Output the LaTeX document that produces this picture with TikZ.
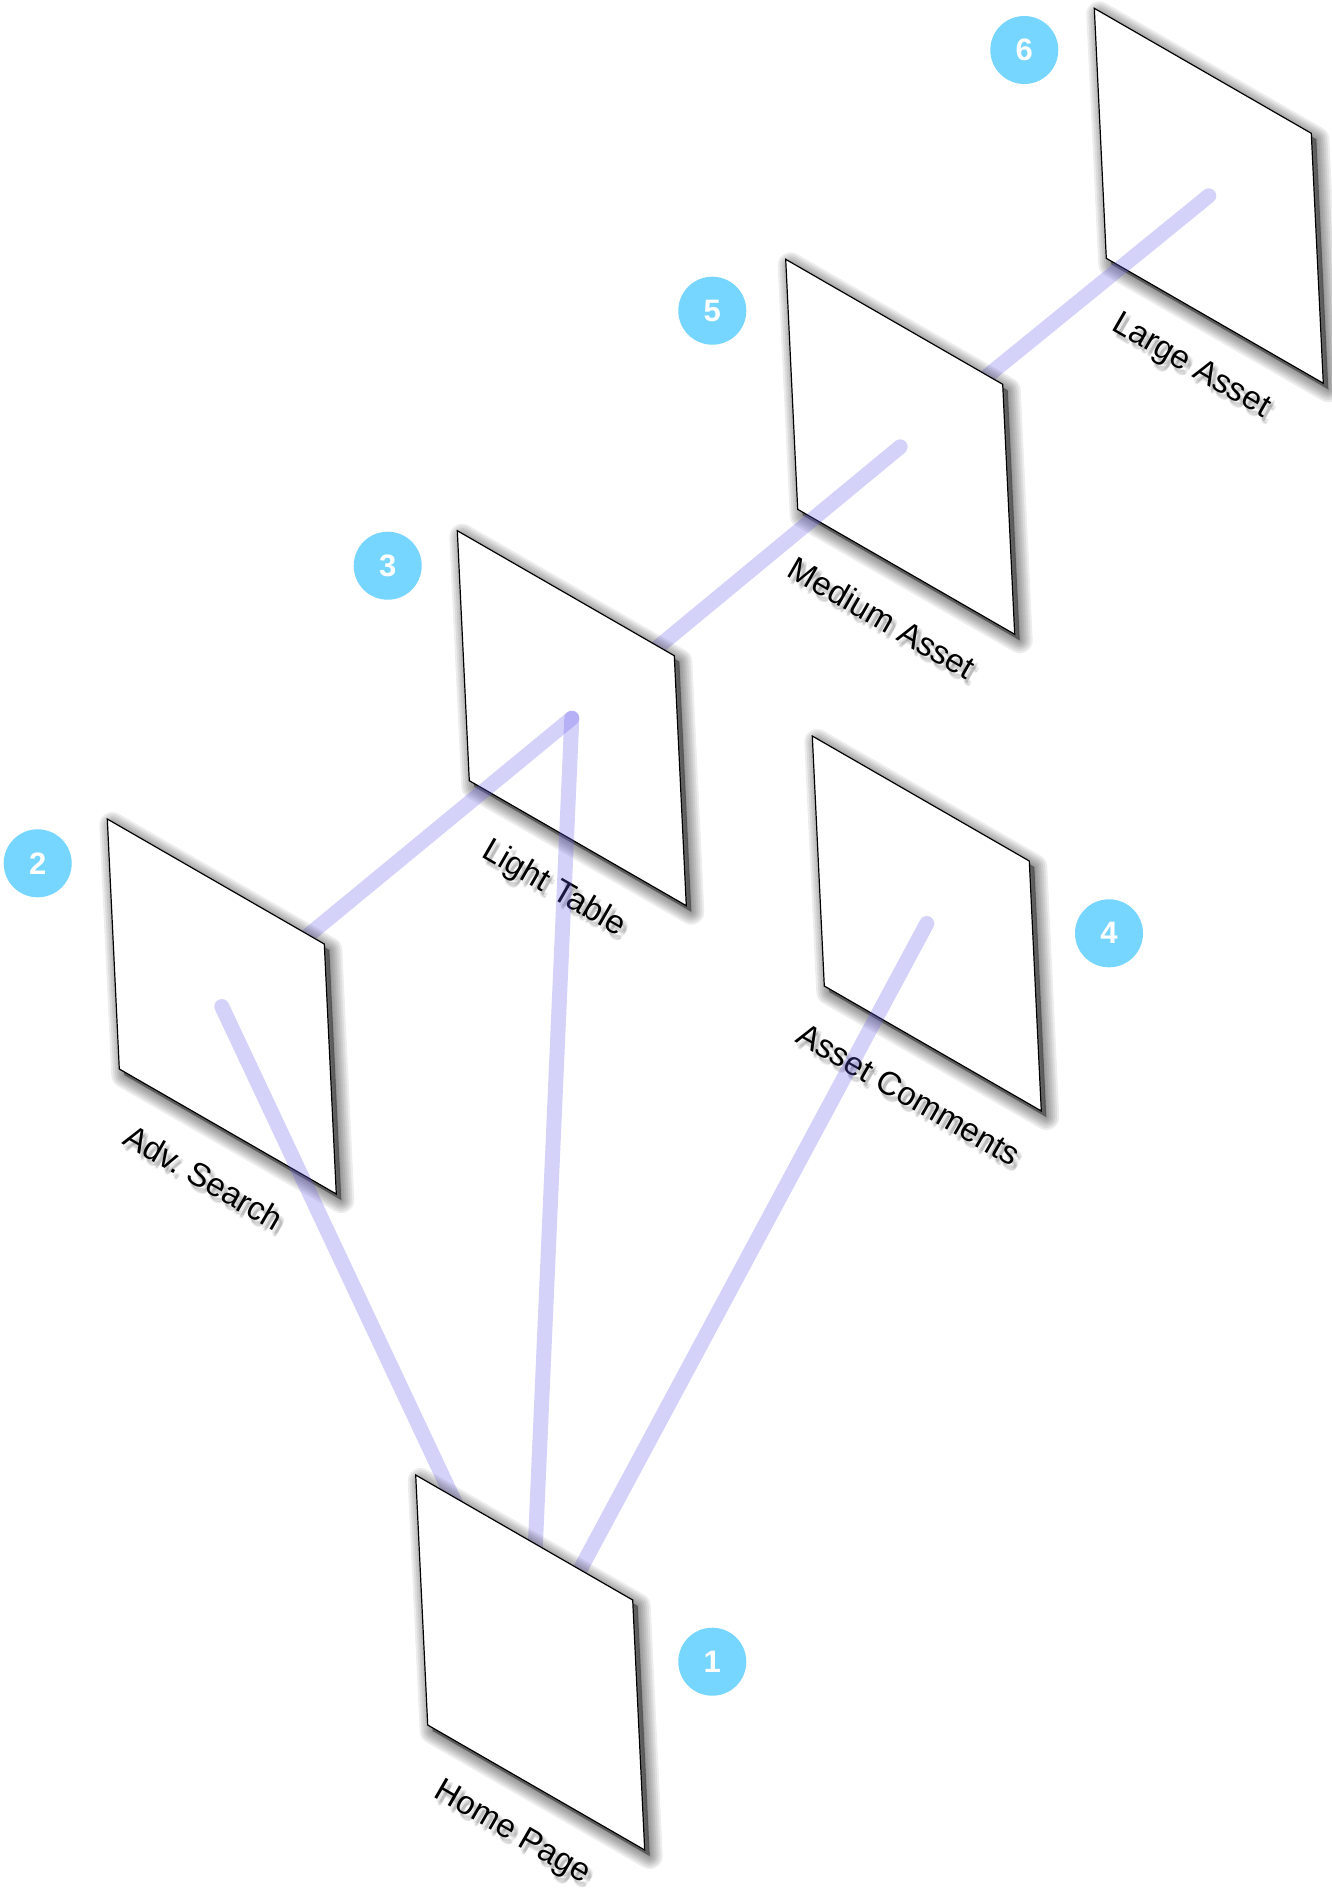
\documentclass[tikz,border=0pt]{standalone}
\usepackage{fontspec}
\setmainfont{Liberation Sans}
\definecolor{badge}{RGB}{118,214,255}
\definecolor{linkc}{RGB}{100,90,240}
\tikzset{
  pagebox/.style={draw=black, line width=0.6pt, fill=white, line join=miter},
  pageshadow/.style={fill=black, fill opacity=0.07, draw=black, draw opacity=0.07,
    line width=#1, line join=round},
  link/.style={draw=linkc, draw opacity=0.27, line width=7.5pt, line cap=round},
  badgec/.style={circle, fill=badge, minimum size=34pt, inner sep=0pt, text=white,
    font=\fontsize{15.5}{18}\selectfont\bfseries},
  lbl/.style={rotate=-30, font=\fontsize{16.5}{19}\selectfont, inner sep=0pt},
  lblsh/.style={lbl, text=black, text opacity=0.09},
}
\newcommand{\mypage}[4]{%
  \foreach \w in {13pt,11pt,9pt,7pt,5pt,3pt,1pt}{
    \path[pageshadow=\w] ({#2+5},{#3+6}) -- ++(217,125) -- ++(12,250) -- ++(-217,-125) -- cycle;
  }
  \path[pagebox] (#2,#3) -- ++(217,125) -- ++(12,250) -- ++(-217,-125) -- cycle;
  \coordinate (#1) at ({#2+114.5},{#3+187.5});
  \foreach \dx/\dy in {2/4,4/6,5/4,3/7}{
    \node[lblsh] at ({#2+96.5+\dx},{#3+358.5+\dy}) {#4};
  }
  \node[lbl] (#1-l) at ({#2+96.5},{#3+358.5}) {#4};
}
\begin{document}
\begin{tikzpicture}[x=0.5pt, y=-0.5pt]
\useasboundingbox (0,0) rectangle (1332,1892);
\fill[white] (0,0) rectangle (1332,1892);

\mypage{large}{1094.3}{8.3}{Large Asset}
\draw[link] (large) -- (900.2,446.8) coordinate (mediumc);
\mypage{medium}{785.7}{259.3}{Medium Asset}
\draw[link] (medium) -- (571.8,718.2) coordinate (lightc);
\mypage{light}{457.3}{530.7}{Light Table}
\coordinate (advc) at (221.8,1006.5);
\coordinate (homec) at (530.2,1662.5);
\draw[link] (light) -- (advc);
\draw[link] (light) -- (homec);
\mypage{comments}{812.3}{736}{Asset Comments}
\draw[link] (comments) -- (homec);
\mypage{adv}{107.3}{819}{Adv.\ Search}
\draw[link] (adv) -- (homec);
\mypage{home}{415.7}{1475}{Home Page}

\node[badgec] (b1) at (712.3,1661.7) {1};
\node[badgec] (b2) at (37.7,863.3) {2};
\node[badgec] (b3) at (387.7,565.7) {3};
\node[badgec] (b4) at (1109,933.3) {4};
\node[badgec] (b5) at (712.3,310.7) {5};
\node[badgec] (b6) at (1024.3,50) {6};
\end{tikzpicture}
\end{document}
